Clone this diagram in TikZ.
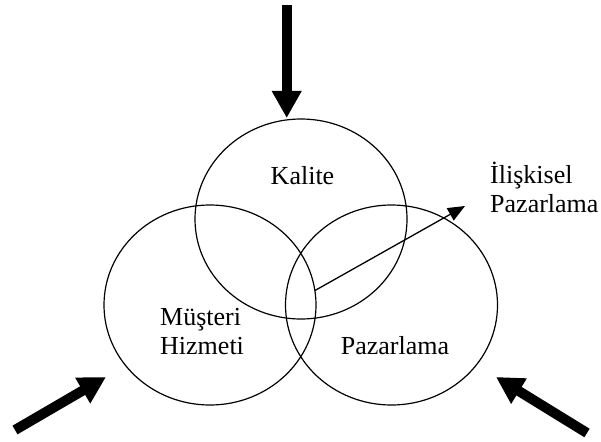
\documentclass[tikz,border=0pt]{standalone}
\usepackage{fontspec}
\setmainfont{Liberation Serif}
\usetikzlibrary{arrows.meta,shapes.geometric}
\begin{document}
\begin{tikzpicture}[x=1pt,y=-1pt,
  ring/.style={draw,ellipse,line width=1.2pt,inner sep=0pt,
    minimum width=212pt,minimum height=200pt},
  label/.style={inner sep=0pt,font=\fontsize{26}{29}\selectfont},
  bigarrow/.style={line width=10pt,-{Triangle[width=28pt,length=27pt]}},
  thinarrow/.style={line width=1.3pt,-{Triangle[width=14pt,length=17pt]}}]
  \useasboundingbox (0,0) rectangle (601,441);

  % the three overlapping rings
  \node[ring] (kring) at (301,219) {};
  \node[ring] (mring) at (210,305) {};
  \node[ring] (pring) at (391.5,305) {};

  % ring captions (multi-line captions are placed by their last baseline)
  \node[label,anchor=base] (kalite) at (302.5,184) {Kalite};
  \node[label,anchor=base west,align=left] (musteri) at (160,354) {Müşteri\\Hizmeti};
  \node[label,anchor=base] (pazarlama) at (395,354) {Pazarlama};
  \node[label,anchor=base west,align=left] (iliskisel) at (490,212) {İlişkisel\\Pazarlama};

  % arrow from the common overlap towards relationship marketing
  \coordinate (core) at (315,290.5);
  \coordinate (rtip) at (465,206);
  \draw[thinarrow] (core) -- (rtip);

  % incoming forces
  \coordinate (topA) at (286.7,5);
  \coordinate (topB) at (286.7,118);
  \coordinate (leftA) at (15,430);
  \coordinate (leftB) at (106,377);
  \coordinate (rightA) at (587,433);
  \coordinate (rightB) at (496,377);
  \draw[bigarrow] (topA) -- (topB);
  \draw[bigarrow] (leftA) -- (leftB);
  \draw[bigarrow] (rightA) -- (rightB);
\end{tikzpicture}
\end{document}
